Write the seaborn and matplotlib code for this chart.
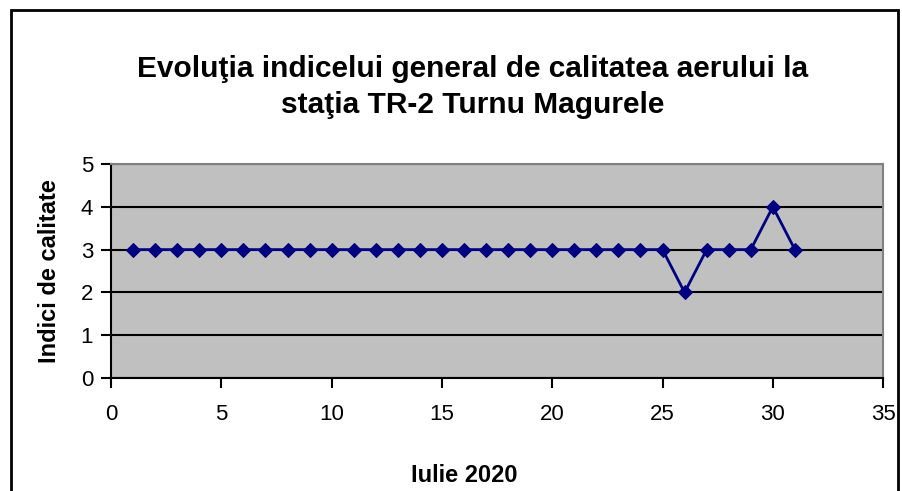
import matplotlib
matplotlib.use("Agg")
import matplotlib.pyplot as plt
import seaborn as sns
import pandas as pd
from matplotlib.patches import Rectangle

# date: ziua din luna iulie si indicele general
zile = list(range(1, 32))
indici = [3] * 25 + [2, 3, 3, 3, 4, 3]

titlu = "Evoluţia indicelui general de calitatea aerului la\nstaţia TR-2 Turnu Magurele"
eticheta_y = "Indici de calitate"
eticheta_x = "Iulie 2020"

df = pd.DataFrame({"zi": zile, "indice": indici})

sns.set_style("white")
plt.rcParams['font.family'] = ['Liberation Sans', 'DejaVu Sans']
plt.rcParams['text.color'] = 'black'
plt.rcParams['axes.labelcolor'] = 'black'
plt.rcParams['xtick.color'] = 'black'
plt.rcParams['ytick.color'] = 'black'

fig = plt.figure(figsize=(9.03, 4.91), dpi=100)
ax = fig.add_axes([0.123, 0.230, 0.855, 0.436])
ax.set_facecolor("#c0c0c0")

sns.lineplot(data=df, x="zi", y="indice", ax=ax, color="#000080", marker="D",
             markersize=7, markeredgecolor="#000080", linewidth=2)

ax.set_xlim(0, 35)
ax.set_ylim(0, 5)
ax.set_xticks(range(0, 36, 5))
ax.set_yticks(range(0, 6))
ax.yaxis.grid(True, color="black", linewidth=1.5)
ax.set_axisbelow(True)

for s in ["left", "bottom"]:
    ax.spines[s].set_color("black")
    ax.spines[s].set_linewidth(1.5)
for s in ["top", "right"]:
    ax.spines[s].set_color("#808080")
    ax.spines[s].set_linewidth(1.5)

ax.tick_params(axis="both", which="major", direction="out", length=7, width=1.5,
               labelsize=16, color="black", labelcolor="black", bottom=True, left=True)
ax.tick_params(axis="x", pad=12)
ax.tick_params(axis="y", pad=6)

ax.set_xlabel("")
ax.set_ylabel(eticheta_y, fontsize=17, fontweight="bold", labelpad=14)
fig.text(0.514, 0.031, eticheta_x, ha="center", va="center", fontsize=17, fontweight="bold")
fig.text(0.523, 0.823, titlu, ha="center", va="center", fontsize=21.5, fontweight="bold",
         linespacing=1.35)

# chenarul exterior
fig.patches.append(Rectangle((0.012, -0.05), 0.982, 1.03, transform=fig.transFigure,
                             fill=False, edgecolor="black", linewidth=2))

plt.savefig("out.png", dpi=100)
plt.close()
